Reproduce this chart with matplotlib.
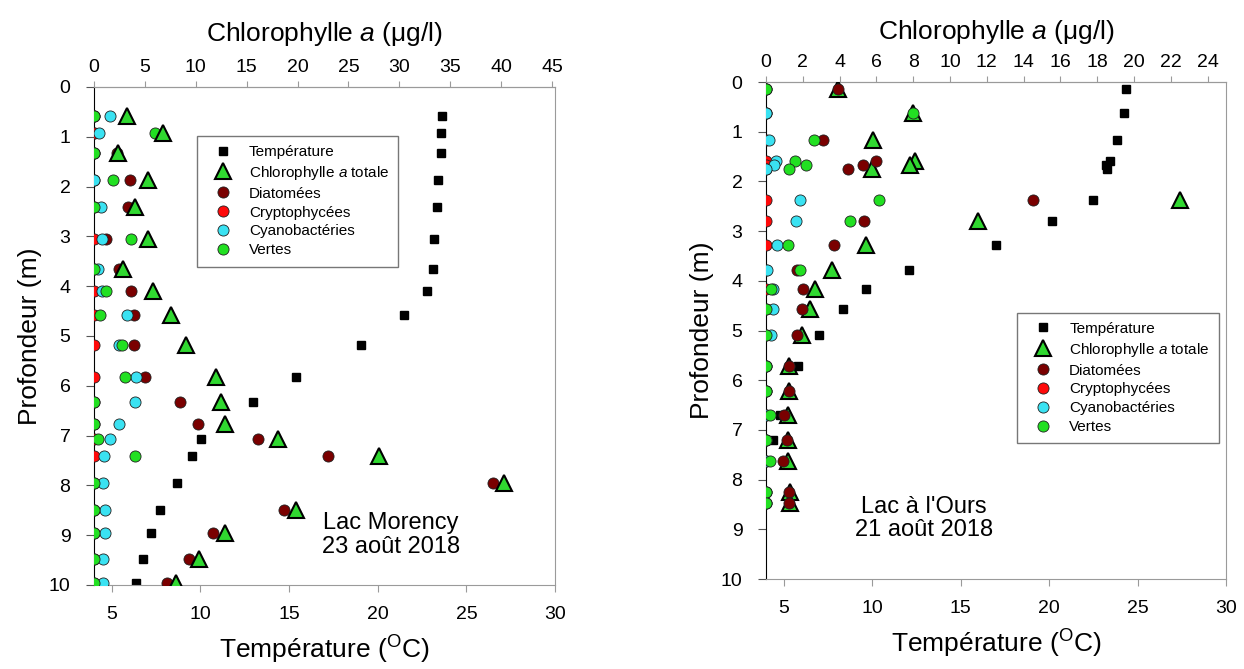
import numpy as np
import matplotlib
matplotlib.use('Agg')
import matplotlib.pyplot as plt
from matplotlib.lines import Line2D

plt.rcParams['font.family'] = ['Liberation Sans', 'DejaVu Sans']
plt.rcParams['mathtext.fontset'] = 'custom'
plt.rcParams['mathtext.rm'] = 'Liberation Sans'
plt.rcParams['mathtext.it'] = 'Liberation Sans:italic'

# ---- Lac Morency (23 aout 2018) ----
mor_depth_t = [0.58, 0.93, 1.33, 1.87, 2.42, 3.05, 3.65, 4.10, 4.57, 5.19,
               5.83, 6.33, 7.07, 7.42, 7.96, 8.49, 8.96, 9.48, 9.97]
mor_temp = [23.6, 23.55, 23.55, 23.4, 23.35, 23.2, 23.1, 22.8, 21.5, 19.05,
            15.4, 12.95, 10.05, 9.5, 8.7, 7.7, 7.2, 6.75, 6.35]
mor_depth = [0.58, 0.93, 1.33, 1.87, 2.42, 3.05, 3.65, 4.10, 4.57, 5.19,
             5.83, 6.33, 6.77, 7.07, 7.42, 7.96, 8.49, 8.96, 9.48, 9.97]
mor_total = [3.2, 6.8, 2.35, 5.3, 4.0, 5.3, 2.8, 5.75, 7.6, 9.0,
             12.0, 12.45, 12.85, 18.1, 28.0, 40.3, 19.8, 12.9, 10.3, 8.1]
mor_diat = [0, 0, 2.3, 3.5, 3.3, 1.15, 2.45, 3.65, 3.9, 3.9,
            5.0, 8.45, 10.25, 16.1, 22.95, 39.2, 18.7, 11.7, 9.3, 7.2]
mor_crypt = [0] * 20
mor_cyano = [1.55, 0.45, 0, 0, 0.7, 0.8, 0.35, 0.8, 3.2, 2.5,
             4.1, 4.05, 2.5, 1.55, 1.0, 0.9, 1.1, 1.1, 0.9, 0.9]
mor_vertes = [0, 5.95, 0, 1.85, 0, 3.6, 0, 1.2, 0.55, 2.75,
              3.0, 0, 0, 0.4, 4.05, 0, 0, 0, 0, 0]

# ---- Lac a l'Ours (21 aout 2018) ----
ours_depth_t = [0.14, 0.62, 1.16, 1.59, 1.66, 1.76, 2.37, 2.79, 3.27, 3.79,
                4.17, 4.57, 5.10, 5.71, 6.69, 7.20]
ours_temp = [24.35, 24.25, 23.83, 23.45, 23.23, 23.28, 22.49, 20.17, 17.02, 12.08,
             9.64, 8.33, 7.0, 5.83, 4.79, 4.41]
ours_depth = [0.14, 0.62, 1.16, 1.59, 1.66, 1.76, 2.37, 2.79, 3.27, 3.79,
              4.17, 4.57, 5.10, 5.71, 6.22, 6.69, 7.20, 7.63, 8.24, 8.47]
ours_total = [3.93, 8.0, 5.83, 8.1, 7.83, 5.74, 22.5, 11.5, 5.43, 3.61,
              2.66, 2.37, 1.94, 1.27, 1.27, 1.21, 1.21, 1.21, 1.3, 1.3]
ours_diat = [3.93, 0, 3.12, 5.98, 5.25, 4.44, 14.53, 5.33, 3.7, 1.67,
             2.03, 1.94, 1.7, 1.27, 1.27, 0.98, 1.16, 0.91, 1.27, 1.27]
ours_crypt = [0] * 20
ours_cyano = [0, 0, 0.18, 0.54, 0.43, 0, 1.85, 1.63, 0.58, 0.07,
              0.4, 0.4, 0.27, 0, 0, 0, 0, 0, 0, 0]
ours_vertes = [0, 8.0, 2.61, 1.58, 2.17, 1.27, 6.14, 4.57, 1.21, 1.85,
               0.25, 0, 0, 0, 0, 0.22, 0, 0.22, 0, 0]

C_DIAT = '#7a0000'
C_CRYPT = '#ff0a0a'
C_CYANO = '#3ae2f2'
C_VERT = '#22e022'
C_TRI = '#30d830'
GRAY = '#9a9a9a'

fig = plt.figure(figsize=(12.44, 6.69), dpi=100)


def panel(rect, depth_t, temp, depth, total, diat, crypt, cyano, vertes,
          chl_max, chl_step, tri_on_top, legend_xy, title, title_xy,
          top_pad, bot_pad):
    ax = fig.add_axes(rect)
    ax.plot(temp, depth_t, ls='none', marker='s', ms=6, mfc='k', mec='k', zorder=2)
    ax.set_xlim(4, 30)
    ax.set_ylim(10, 0)
    ax.set_xticks(range(5, 31, 5))
    ax.set_yticks(range(0, 11))
    ax.set_xlabel('Température ($^{\\mathrm{O}}$C)', fontsize=19, labelpad=bot_pad)
    ax.set_ylabel('Profondeur (m)', fontsize=19, labelpad=5)
    ax.tick_params(axis='x', direction='out', length=5, color=GRAY, labelsize=14, pad=10)
    ax.tick_params(axis='y', direction='out', length=6, color='#555555', labelsize=14, pad=11)
    for s in ['top', 'right', 'bottom']:
        ax.spines[s].set_color(GRAY)
    ax.spines['left'].set_color('k')

    ax2 = ax.twiny()
    ax2.set_xlim(0, chl_max)
    ax2.set_xticks(np.arange(0, chl_max, chl_step))
    ax2.set_xlabel('Chlorophylle $a$ (μg/l)', fontsize=19, labelpad=top_pad)
    ax2.tick_params(axis='x', direction='out', length=4, color=GRAY, labelsize=14, pad=4)
    for s in ['left', 'right', 'bottom']:
        ax2.spines[s].set_visible(False)
    ax2.spines['top'].set_color(GRAY)

    tri_z = 6 if tri_on_top else 3
    ax2.plot(total, depth, ls='none', marker='^', ms=11, mfc=C_TRI, mec='k', mew=1.5, zorder=tri_z)
    circ = dict(ls='none', marker='o', ms=8, mec='#202020', mew=0.6)
    ax2.plot(diat, depth, mfc=C_DIAT, zorder=4, **circ)
    ax2.plot(crypt, depth, mfc=C_CRYPT, zorder=4.1, **circ)
    ax2.plot(cyano, depth, mfc=C_CYANO, zorder=4.2, **circ)
    ax2.plot(vertes, depth, mfc=C_VERT, zorder=4.3, **circ)

    handles = [
        Line2D([], [], ls='none', marker='s', ms=6, mfc='k', mec='k'),
        Line2D([], [], ls='none', marker='^', ms=11, mfc=C_TRI, mec='k', mew=1.5),
        Line2D([], [], mfc=C_DIAT, **circ),
        Line2D([], [], mfc=C_CRYPT, **circ),
        Line2D([], [], mfc=C_CYANO, **circ),
        Line2D([], [], mfc=C_VERT, **circ),
    ]
    labels = ['Température', 'Chlorophylle $a$ totale', 'Diatomées',
              'Cryptophycées', 'Cyanobactéries', 'Vertes']
    leg = ax2.legend(handles, labels, loc='upper left', bbox_to_anchor=legend_xy,
                     fontsize=11, frameon=True, fancybox=False, framealpha=1,
                     edgecolor='#777777', borderpad=0.6, handlelength=2.2,
                     handletextpad=0.6, labelspacing=0.32, borderaxespad=0,
                     numpoints=1)
    leg.get_frame().set_linewidth(1.0)
    leg.set_zorder(10)

    ax2.text(title_xy[0], title_xy[1], title, transform=ax2.transAxes,
             ha='center', va='center', fontsize=17, linespacing=1.1)
    return ax, ax2


panel([0.0756, 0.1256, 0.3706, 0.7444], mor_depth_t, mor_temp, mor_depth,
      mor_total, mor_diat, mor_crypt, mor_cyano, mor_vertes,
      45.3, 5, True, (0.223, 0.902), 'Lac Morency\n23 août 2018', (0.644, 0.101),
      13, 8)

panel([0.6158, 0.1345, 0.3698, 0.7429], ours_depth_t, ours_temp, ours_depth,
      ours_total, ours_diat, ours_crypt, ours_cyano, ours_vertes,
      25.0, 2, False, (0.546, 0.536), "Lac à l'Ours\n21 août 2018", (0.343, 0.122),
      11, 8)

fig.savefig('out.png', dpi=100)
